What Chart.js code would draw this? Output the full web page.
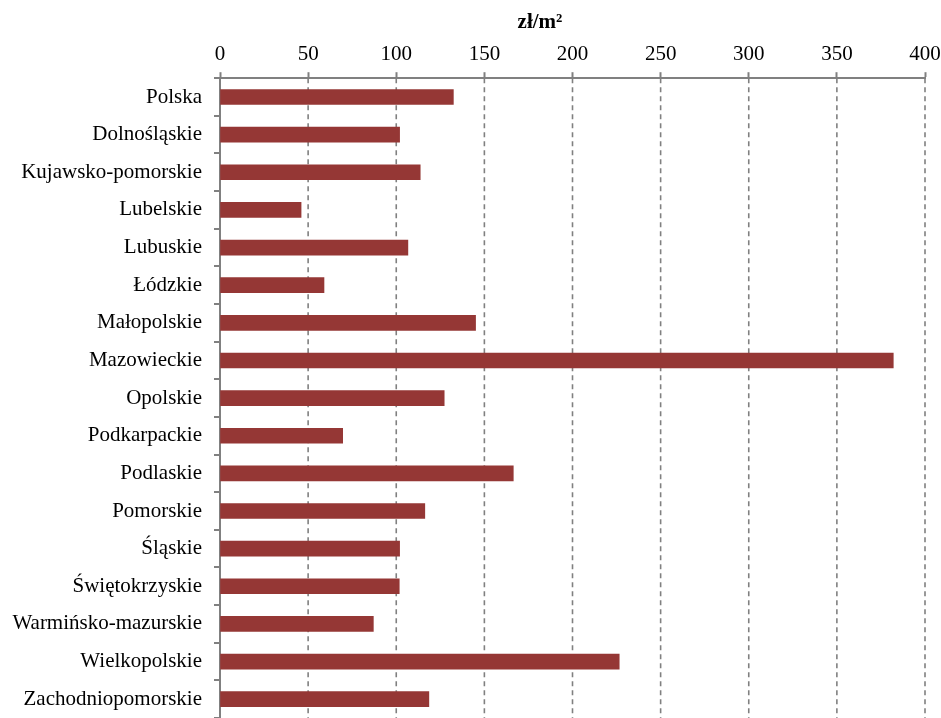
<!DOCTYPE html>
<html>
<head>
<meta charset="utf-8">
<script src="https://cdn.jsdelivr.net/npm/chart.js@4/dist/chart.umd.min.js"></script>
<style>
  html, body { margin: 0; padding: 0; background: #fff; }
  #wrap { width: 941px; height: 718px; }
</style>
</head>
<body>
<div id="wrap"><canvas id="priceChart" width="941" height="718"></canvas></div>
<script>
// price of land per m2 by voivodeship
const regions = [
  "Polska", "Dolnośląskie", "Kujawsko-pomorskie", "Lubelskie", "Lubuskie",
  "Łódzkie", "Małopolskie", "Mazowieckie", "Opolskie", "Podkarpackie",
  "Podlaskie", "Pomorskie", "Śląskie", "Świętokrzyskie",
  "Warmińsko-mazurskie", "Wielkopolskie", "Zachodniopomorskie"
];
const prices = [
  132.4, 101.9, 113.6, 46, 106.6,
  59, 145, 382, 127.2, 69.6,
  166.4, 116.2, 101.9, 101.7,
  87, 226.5, 118.5
];
const xTicks = [0, 50, 100, 150, 200, 250, 300, 350, 400];
const unitLabel = "zł/m²";

const FONT = "'Liberation Serif', 'Times New Roman', serif";
const gridGrey = "#808080";

// axis title sits a bit left of centre in the original
const unitTitle = {
  id: "unitTitle",
  afterDraw(chart) {
    const c = chart.ctx;
    c.save();
    c.font = "bold 21px " + FONT;
    c.fillStyle = "#000";
    c.textAlign = "center";
    c.textBaseline = "middle";
    c.fillText(unitLabel, 540, 23);
    c.restore();
  }
};

// dashed vertical gridlines like the original
const dashGrid = {
  id: "dashGrid",
  beforeDatasetsDraw(chart) {
    const x = chart.scales.x, a = chart.chartArea, c = chart.ctx;
    c.save();
    c.strokeStyle = gridGrey;
    c.lineWidth = 1.6;
    c.setLineDash([5, 4]);
    xTicks.slice(1).forEach(v => {
      const px = x.getPixelForValue(v);
      c.beginPath();
      c.moveTo(px, a.top);
      c.lineTo(px, a.bottom);
      c.stroke();
    });
    c.restore();
  }
};

const ctx = document.getElementById("priceChart").getContext("2d");
new Chart(ctx, {
  type: "bar",
  data: {
    labels: regions,
    datasets: [{
      data: prices,
      backgroundColor: "#953735",
      borderWidth: 0,
      barThickness: 15
    }]
  },
  options: {
    indexAxis: "y",
    responsive: false,
    animation: false,
    layout: { padding: { top: 37, right: 16, bottom: 0, left: 0 } },
    plugins: {
      legend: { display: false },
      tooltip: { enabled: false }
    },
    scales: {
      x: {
        position: "top",
        min: 0,
        max: 400,
        afterBuildTicks: scale => { scale.ticks = xTicks.map(v => ({ value: v })); },
        afterFit: scale => {
          scale.paddingLeft = 0;
          scale.paddingRight = 0;
        },
        ticks: {
          font: { family: FONT, size: 21 },
          color: "#000",
          padding: 5,
          maxRotation: 0
        },
        grid: {
          drawOnChartArea: false,
          tickLength: 6,
          tickColor: gridGrey,
          tickWidth: 2
        },
        border: { display: true, color: gridGrey, width: 2 }
      },
      y: {
        afterFit: scale => {
          scale.width = 220;
          scale.paddingTop = 0;
          scale.paddingBottom = 0;
        },
        ticks: {
          font: { family: FONT, size: 21 },
          color: "#000",
          padding: 12
        },
        grid: {
          drawOnChartArea: false,
          tickLength: 6,
          color: gridGrey,
          lineWidth: 2
        },
        border: { display: true, color: gridGrey, width: 2 }
      }
    }
  },
  plugins: [unitTitle, dashGrid]
});
</script>
</body>
</html>
